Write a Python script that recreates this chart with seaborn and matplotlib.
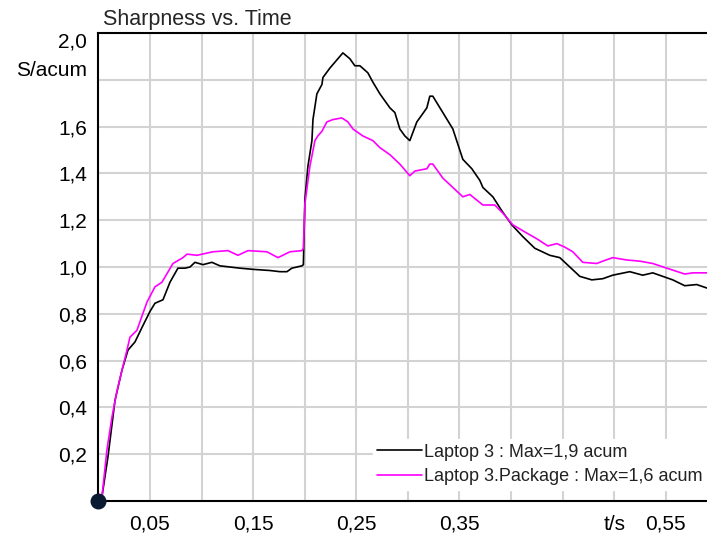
import numpy as np
import pandas as pd
import matplotlib
matplotlib.use("Agg")
import matplotlib.pyplot as plt
import seaborn as sns

# ---------------- data ----------------
t_black = [0.000, 0.0035, 0.0093, 0.0161, 0.0229, 0.0287, 0.0355, 0.0432, 0.050, 0.0548,
           0.0626, 0.0694, 0.0771, 0.0839, 0.0888, 0.0936, 0.1014, 0.110, 0.1178, 0.1372,
           0.1498, 0.1663, 0.176, 0.1828, 0.1876, 0.1973, 0.1987, 0.2002, 0.2031, 0.207,
           0.208, 0.2118, 0.2167, 0.2177, 0.2244, 0.237, 0.2438, 0.2486, 0.2535, 0.2612,
           0.2661, 0.2729, 0.2826, 0.2874, 0.2922, 0.2971, 0.3019, 0.3087, 0.3136, 0.3184,
           0.3213, 0.3242, 0.3339, 0.3436, 0.3533, 0.362, 0.3698, 0.3727, 0.3824, 0.3911,
           0.4008, 0.4114, 0.4231, 0.4376, 0.4473, 0.457, 0.4667, 0.4783, 0.489, 0.4986,
           0.5151, 0.5277, 0.5374, 0.5471, 0.5568, 0.5684, 0.58, 0.59]
s_black = [0.00, 0.02, 0.19, 0.43, 0.56, 0.645, 0.68, 0.75, 0.81, 0.845,
           0.86, 0.935, 0.995, 0.995, 1.00, 1.02, 1.01, 1.02, 1.005, 0.995,
           0.99, 0.985, 0.98, 0.98, 0.995, 1.005, 1.01, 1.29, 1.43, 1.54,
           1.63, 1.74, 1.78, 1.81, 1.85, 1.915, 1.89, 1.86, 1.86, 1.83,
           1.79, 1.74, 1.68, 1.66, 1.59, 1.56, 1.54, 1.62, 1.65, 1.68,
           1.73, 1.73, 1.66, 1.59, 1.46, 1.42, 1.37, 1.34, 1.30, 1.24,
           1.18, 1.13, 1.08, 1.05, 1.04, 1.00, 0.96, 0.945, 0.95, 0.965,
           0.98, 0.965, 0.975, 0.96, 0.945, 0.92, 0.925, 0.91]

t_pkg = [0.000, 0.0035, 0.0083, 0.0132, 0.018, 0.0229, 0.0277, 0.0306, 0.0374, 0.0422,
         0.0471, 0.0548, 0.0616, 0.0723, 0.082, 0.0859, 0.0955, 0.111, 0.1256, 0.1353,
         0.145, 0.1634, 0.1741, 0.1857, 0.1973, 0.1987, 0.2002, 0.205, 0.2099, 0.2127,
         0.2167, 0.2215, 0.2273, 0.236, 0.2419, 0.2467, 0.2564, 0.2661, 0.2729, 0.2826,
         0.2922, 0.3019, 0.3068, 0.3184, 0.3213, 0.3242, 0.3339, 0.3436, 0.3533, 0.3601,
         0.3727, 0.3843, 0.3921, 0.4018, 0.4153, 0.4252, 0.4357, 0.4444, 0.4521, 0.4599,
         0.4696, 0.4831, 0.489, 0.4986, 0.5122, 0.5248, 0.5374, 0.551, 0.5684, 0.5762, 0.59]
s_pkg = [0.00, 0.02, 0.22, 0.36, 0.47, 0.56, 0.645, 0.70, 0.73, 0.79,
         0.85, 0.915, 0.935, 1.015, 1.04, 1.055, 1.05, 1.065, 1.07, 1.05,
         1.07, 1.065, 1.04, 1.065, 1.07, 1.08, 1.27, 1.43, 1.54, 1.56,
         1.58, 1.62, 1.63, 1.637, 1.62, 1.59, 1.56, 1.54, 1.51, 1.48,
         1.44, 1.39, 1.41, 1.42, 1.44, 1.44, 1.38, 1.34, 1.30, 1.31,
         1.265, 1.265, 1.23, 1.18, 1.145, 1.12, 1.09, 1.10, 1.085, 1.065,
         1.02, 1.015, 1.025, 1.04, 1.03, 1.025, 1.015, 0.995, 0.97, 0.975, 0.975]

series_names = ["Laptop 3 : Max=1,9 acum", "Laptop 3.Package : Max=1,6 acum"]
series_colors = ["#000000", "#ff00ff"]

x_ticks = [0.05, 0.10, 0.15, 0.20, 0.25, 0.30, 0.35, 0.40, 0.45, 0.50, 0.55]
x_ticklabels = ["0,05", "", "0,15", "", "0,25", "", "0,35", "", "", "t/s", "0,55"]
y_ticks = [0.2, 0.4, 0.6, 0.8, 1.0, 1.2, 1.4, 1.6, 1.8, 2.0]
y_ticklabels = ["0,2", "0,4", "0,6", "0,8", "1,0", "1,2", "1,4", "1,6", "S/acum", "2,0"]
origin = [0.0, 0.0]

title = "Sharpness vs. Time"

# ---------------- build frame ----------------
df = pd.concat([
    pd.DataFrame({"t": t_black, "s": s_black, "series": series_names[0]}),
    pd.DataFrame({"t": t_pkg, "s": s_pkg, "series": series_names[1]}),
], ignore_index=True)

sns.set_style("white")
plt.rcParams["font.family"] = ["Liberation Sans", "DejaVu Sans"]

fig = plt.figure(figsize=(7.07, 5.34), dpi=100)
ax = fig.add_axes([98.4 / 707, 33 / 534, (707 - 98.4) / 707, (501 - 33) / 534])

sns.lineplot(data=df, x="t", y="s", hue="series", hue_order=series_names,
             palette=dict(zip(series_names, series_colors)), estimator=None,
             sort=False, linewidth=1.2, ax=ax, zorder=3)

ax.set_xlim(0, 0.59)
ax.set_ylim(0, 2.0)
ax.set_xticks(x_ticks)
ax.set_xticklabels(x_ticklabels)
ax.set_yticks(y_ticks)
ax.set_yticklabels(y_ticklabels)
ax.tick_params(axis="both", length=0, labelsize=15, colors="black")
ax.tick_params(axis="y", pad=8)
ax.tick_params(axis="x", pad=10)
ax.set_xlabel("")
ax.set_ylabel("")
ax.grid(True, color="#d3d3d3", linewidth=1.5)
ax.set_axisbelow(True)

ylabels = ax.get_yticklabels()
ylabels[-1].set_verticalalignment("top")      # "2,0" sits just under the top line
ylabels[-2].set_verticalalignment("bottom")   # unit label sits just above its line

for side in ["left", "bottom", "top"]:
    ax.spines[side].set_visible(True)
    ax.spines[side].set_color("black")
    ax.spines[side].set_linewidth(1.5)
ax.spines["right"].set_visible(False)

ax.scatter([origin[0]], [origin[1]], s=110, color="#0b1a33", zorder=6, clip_on=False)

leg = ax.legend(loc="lower right", bbox_to_anchor=(1.0, 0.024), frameon=True,
                fontsize=13, handlelength=2.5, handletextpad=0.1, labelspacing=0.42,
                borderpad=0.25, borderaxespad=0.0)
leg.get_frame().set_facecolor("white")
leg.get_frame().set_edgecolor("white")
leg.get_frame().set_alpha(1.0)
leg.get_frame().set_boxstyle("square", pad=0)
for line in leg.get_lines():
    line.set_linewidth(1.2)
for txt in leg.get_texts():
    txt.set_color("#222222")

fig.text(103 / 707, 1 - 19 / 534, title, ha="left", va="center", fontsize=15.5)

fig.savefig("out.png", dpi=100)
